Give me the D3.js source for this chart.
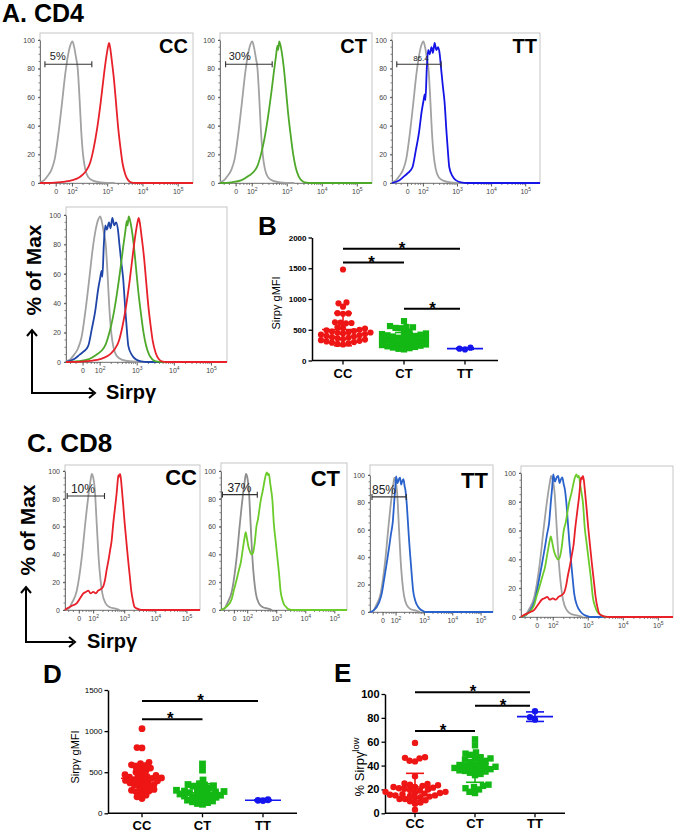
<!DOCTYPE html>
<html><head><meta charset="utf-8">
<script src="https://cdn.jsdelivr.net/npm/d3@7"></script>
<style>body{margin:0;background:#fff}svg{display:block;font-family:"Liberation Sans",Arial,sans-serif}</style>
</head><body><script>
// ---------- DATA ----------
// histogram x values are log10 fluorescence, y values are % of max
const cd4Iso=[[1.08,0.5],[1.2,2],[1.3,5],[1.4,9],[1.5,17],[1.6,34],[1.7,55],[1.8,77],[1.88,90],[1.95,97],[2.0,99],[2.05,95],[2.1,88],[2.15,80],[2.2,60],[2.25,36],[2.3,20],[2.36,10],[2.45,4],[2.6,1.5],[2.8,0.5],[3.2,0]];
const cd4CC=[[1.08,0],[1.5,0.3],[1.8,1],[2.0,2],[2.2,4],[2.3,6],[2.4,9],[2.5,14],[2.6,24],[2.7,38],[2.8,56],[2.9,77],[2.96,88],[3.0,94],[3.04,98],[3.08,93],[3.12,85],[3.18,72],[3.24,55],[3.3,38],[3.36,25],[3.42,14],[3.5,6],[3.58,2],[3.66,0.5],[3.8,0],[5.42,0]];
const cd4CT=[[1.08,0],[1.4,0.5],[1.7,2],[1.9,5],[2.05,8],[2.15,12],[2.25,20],[2.35,31],[2.45,46],[2.55,64],[2.62,78],[2.68,89],[2.72,96],[2.74,93],[2.77,99],[2.8,97],[2.84,92],[2.9,81],[2.96,66],[3.02,50],[3.09,35],[3.17,20],[3.24,11],[3.32,5],[3.4,2],[3.5,0.5],[3.7,0],[5.42,0]];
const cd4TT=[[1.08,0],[1.3,2],[1.45,5],[1.55,7],[1.68,11],[1.78,23],[1.87,35],[1.95,50],[2.0,57],[2.04,62],[2.06,58],[2.1,80],[2.14,93],[2.18,90],[2.24,95],[2.28,91],[2.33,98],[2.38,93],[2.43,95],[2.48,90],[2.52,80],[2.57,68],[2.62,57],[2.68,35],[2.72,22],[2.76,11],[2.85,5],[2.95,2],[3.1,0.5],[3.3,0],[5.42,0]];
const cd8Iso=[[1.08,0],[1.2,1],[1.3,5],[1.46,14],[1.62,38],[1.73,62],[1.82,80],[1.9,93],[1.94,98],[1.98,96],[2.04,86],[2.1,62],[2.16,38],[2.22,22],[2.28,12],[2.38,5],[2.52,2],[2.7,1],[2.84,0]];
const cd8CC=[[1.08,0],[1.14,1],[1.3,3],[1.46,5],[1.58,9],[1.67,12],[1.75,13],[1.83,14],[1.9,12],[1.99,13],[2.07,12],[2.15,14],[2.23,15],[2.31,17],[2.37,22],[2.42,29],[2.48,36],[2.53,43],[2.58,50],[2.63,62],[2.68,72],[2.74,84],[2.78,94],[2.8,97],[2.83,96],[2.85,98],[2.88,94],[2.9,89],[2.95,76],[3.0,62],[3.05,50],[3.1,38],[3.16,25],[3.21,14],[3.27,6],[3.32,2],[3.4,1],[3.48,0.3],[3.6,0],[5.42,0]];
const cd8CT=[[1.08,0],[1.3,3],[1.45,8],[1.52,14],[1.62,22],[1.7,29],[1.76,34],[1.84,45],[1.9,53],[1.93,56],[1.97,52],[2.02,46],[2.08,42],[2.13,40],[2.18,41],[2.24,48],[2.3,60],[2.36,66],[2.4,72],[2.45,79],[2.52,86],[2.58,93],[2.62,97],[2.66,99],[2.7,97],[2.73,98],[2.77,92],[2.81,86],[2.85,79],[2.9,62],[2.96,50],[3.02,38],[3.08,26],[3.13,14],[3.2,7],[3.25,4],[3.33,2],[3.42,0.5],[3.6,0],[5.42,0]];
const cd8TT=[[1.08,0],[1.2,1],[1.4,7],[1.5,14],[1.58,24],[1.68,37],[1.76,48],[1.82,57],[1.88,65],[1.94,82],[1.97,90],[2.0,99],[2.05,94],[2.1,97],[2.14,98],[2.18,93],[2.21,95],[2.26,97],[2.3,92],[2.33,89],[2.38,78],[2.42,65],[2.46,52],[2.5,41],[2.55,28],[2.6,16],[2.68,8],[2.77,4],[2.85,2],[2.93,1],[3.05,0],[5.42,0]];
const logDomain=[1.08,5.42];
const pctTicks=[0,20,40,60,80,100];
const histTickLabels=[{v:1.54,t:"0"},{v:2,t:"10",e:"2"},{v:3,t:"10",e:"3"},{v:4,t:"10",e:"4"},{v:5,t:"10",e:"5"}];

const groups=["CC","CT","TT"];
const bCC=[1480,945,930,875,770,765,760,620,615,610,605,540,530,520,500,490,480,470,460,455,450,440,430,420,410,400,390,380,370,360,350,340,330,320,310,300,290,280,270,260];
const bCT=[640,560,545,540,530,525,470,450,440,430,420,410,400,390,380,370,360,350,340,330,320,310,300,290,280,270,260,250,240,230,220,210,200,190,180];
const bTT=[208,180,192];
const bMean=[505,345,193], bSD=[265,110,12];
const bTicks=[0,500,1000,1500,2000];
const bSig=[["CC","TT",1818],["CC","CT",1592],["CT","TT",840]];

const dCC=[1030,800,795,620,605,590,580,560,550,540,520,500,480,470,460,450,445,440,430,425,420,410,400,395,390,380,370,360,350,340,330,320,300,290,280,270,260,250,220,200,180];
const dCT=[600,525,405,360,350,345,335,330,310,300,290,280,270,265,260,255,250,240,235,230,225,220,210,200,195,190,180,170,160,150,140,130,120,110];
const dTT=[165,158,155];
const dMean=[426,250,158], dSD=[180,110,5];
const dTicks=[0,500,1000,1500];
const dSig=[["CC","TT",1366],["CC","CT",1143]];

const eCC=[59,47,46.5,46,44,43.5,31,25,24.5,24,23.5,23,22,22,21.5,21,20.5,20,19.5,19,18,18,17.5,17,16.5,16,15.5,15,15,14.5,14,13.5,13,12,12,11,10,9,8,3];
const eCT=[62,57,51,50,49,47,46,46,45,44,43,42,41,40.5,40,39.5,39,38.5,38,37.5,37,36.5,36,35.5,35,34,33,32,24,23,22,21,20,18,17];
const eTT=[85.5,78.5,80.5];
const eMean=[22,37,81], eSD=[11.5,11,4];
const eTicks=[0,20,40,60,80,100];
const eSig=[["CC","TT",101.4],["CT","TT",90.2],["CC","CT",69]];

// ---------- DRAW ----------
const svg=d3.select("body").append("svg").attr("width",675).attr("height",832);
const GRAY="#a2a2a2";

function hist(o){
  const x=d3.scaleLinear().domain(logDomain).range([o.x0,o.x1]);
  const y=d3.scaleLinear().domain([0,100]).range([o.y0,o.y100]);
  const g=svg.append("g");
  g.append("rect").attr("x",o.x0).attr("y",o.top).attr("width",o.x1-o.x0).attr("height",o.y0-o.top)
    .attr("fill","none").attr("stroke","#c6c6c6").attr("stroke-width",1);
  const ya=d3.axisLeft(y).tickValues(pctTicks).tickSize(2).tickSizeOuter(0).tickPadding(3).tickFormat(d3.format("d"));
  const yg=g.append("g").attr("transform",`translate(${o.x0},0)`).call(ya);
  yg.select(".domain").attr("stroke","#777");
  yg.selectAll("text").attr("font-size",7).attr("fill","#444").attr("font-family","Liberation Sans, Arial");
  yg.selectAll("line").attr("stroke","#555");
  g.append("g").selectAll("line").data(d3.range(0,101,5)).join("line")
    .attr("x1",o.x0-1.5).attr("x2",o.x0).attr("y1",d=>y(d)).attr("y2",d=>y(d)).attr("stroke","#666").attr("stroke-width",0.8);
  g.append("line").attr("x1",o.x0).attr("x2",o.x1).attr("y1",o.y0+0.5).attr("y2",o.y0+0.5).attr("stroke","#888");
  const minors=[1.2,1.35,1.65,1.76,1.85,1.92].concat(d3.range(2,5).flatMap(d=>d3.range(2,10).map(k=>d+Math.log10(k))));
  g.append("g").selectAll("line").data(minors).join("line")
    .attr("x1",d=>x(d)).attr("x2",d=>x(d)).attr("y1",o.y0).attr("y2",o.y0+2).attr("stroke","#666").attr("stroke-width",0.8);
  g.append("g").selectAll("line").data(histTickLabels).join("line")
    .attr("x1",d=>x(d.v)).attr("x2",d=>x(d.v)).attr("y1",o.y0).attr("y2",o.y0+3.5).attr("stroke","#444").attr("stroke-width",0.9);
  const tl=g.append("g").selectAll("text").data(histTickLabels).join("text")
    .attr("x",d=>x(d.v)).attr("y",o.y0+11).attr("text-anchor","middle").attr("font-size",7).attr("fill","#444");
  tl.append("tspan").text(d=>d.t);
  tl.filter(d=>d.e).append("tspan").attr("dy",-3).attr("font-size",5).text(d=>d.e);
  const line=d3.line().x(d=>x(d[0])).y(d=>y(d[1])).curve(d3.curveMonotoneX);
  o.curves.forEach(c=>g.append("path").datum(c.data).attr("d",line).attr("fill","none")
    .attr("stroke",c.color).attr("stroke-width",c.w||1.8).attr("stroke-linejoin","round"));
  if(o.gate){
    const gt=o.gate, gy=y(gt.level);
    g.append("line").attr("x1",x(gt.from)).attr("x2",x(gt.to)).attr("y1",gy).attr("y2",gy).attr("stroke","#333").attr("stroke-width",1.1);
    [gt.from,gt.to].forEach(v=>g.append("line").attr("x1",x(v)).attr("x2",x(v)).attr("y1",gy-3).attr("y2",gy+3).attr("stroke","#333").attr("stroke-width",1.1));
    g.append("text").attr("x",x(gt.tx)).attr("y",gy-gt.dy).attr("font-size",gt.fs).attr("fill","#222").text(gt.text);
  }
  if(o.label) g.append("text").attr("x",o.x1-o.lr).attr("y",o.top+o.lb).attr("text-anchor","end")
    .attr("font-size",o.lfs).attr("font-weight","bold").attr("fill","#000").text(o.label);
}

// Panel A
svg.append("text").attr("x",2).attr("y",22).attr("font-size",25).attr("font-weight","bold").text("A. CD4");
const aV={top:33,y100:40,y0:183};
hist({...aV,x0:40,x1:193,curves:[{data:cd4Iso,color:GRAY},{data:cd4CC,color:"#e8202a"}],
  gate:{from:1.22,to:2.55,level:83,text:"5%",tx:1.36,dy:4,fs:11},label:"CC",lr:5,lb:20,lfs:20});
hist({...aV,x0:220,x1:372,curves:[{data:cd4Iso,color:GRAY},{data:cd4CT,color:"#4ea82a"}],
  gate:{from:1.24,to:2.57,level:83,text:"30%",tx:1.33,dy:4,fs:11},label:"CT",lr:5,lb:20,lfs:20});
hist({...aV,x0:392,x1:540,curves:[{data:cd4Iso,color:GRAY},{data:cd4TT,color:"#1414e6"}],
  gate:{from:1.22,to:2.52,level:83,text:"86.4",tx:1.7,dy:3,fs:8},label:"TT",lr:3,lb:20,lfs:20});
hist({top:207,y100:215,y0:362,x0:66,x1:227,curves:[{data:cd4Iso,color:GRAY},{data:cd4TT,color:"#1f45a8"},{data:cd4CT,color:"#4ea82a"},{data:cd4CC,color:"#e8202a"}]});

function axisLabel(x,yTop,yCorner,xRight,labY,textX,textY){
  const g=svg.append("g");
  g.append("text").attr("transform",`translate(${x},${labY}) rotate(-90)`).attr("text-anchor","middle")
    .attr("font-size",21).attr("font-weight","bold").text("% of Max");
  g.append("polyline").attr("points",`${x-9},${yTop+2} ${x-9},${yCorner} ${xRight-2},${yCorner}`)
    .attr("fill","none").attr("stroke","#000").attr("stroke-width",2);
  g.append("polyline").attr("points",`${x-14},${yTop+6} ${x-9},${yTop} ${x-4},${yTop+6}`).attr("fill","none").attr("stroke","#000").attr("stroke-width",2);
  g.append("polyline").attr("points",`${xRight-6},${yCorner-5} ${xRight},${yCorner} ${xRight-6},${yCorner+5}`).attr("fill","none").attr("stroke","#000").attr("stroke-width",2);
  g.append("text").attr("x",textX).attr("y",textY).attr("font-size",20).attr("font-weight","bold").text("Sirpγ");
}
axisLabel(41,330,393,95,270,106,399);

// Panel C
svg.append("text").attr("x",27).attr("y",452).attr("font-size",26).attr("font-weight","bold").text("C. CD8");
hist({top:465,y100:471,y0:610,x0:65,x1:200,curves:[{data:cd8Iso,color:GRAY},{data:cd8CC,color:"#e8202a"}],
  gate:{from:1.15,to:2.35,level:82,text:"10%",tx:1.27,dy:3,fs:12},label:"CC",lr:3,lb:20,lfs:22});
hist({top:463,y100:471,y0:610,x0:221,x1:347,curves:[{data:cd8Iso,color:"#8e8e8e"},{data:cd8CT,color:"#6acb2a"}],
  gate:{from:1.13,to:2.33,level:83,text:"37%",tx:1.3,dy:3,fs:12},label:"CT",lr:7,lb:23,lfs:22});
hist({top:465,y100:475,y0:612,x0:370,x1:493,curves:[{data:cd8Iso,color:"#a0a0a0"},{data:cd8TT,color:"#2a62cc"}],
  gate:{from:1.15,to:2.36,level:84,text:"85%",tx:1.15,dy:3,fs:12},label:"TT",lr:5,lb:23,lfs:22});
hist({top:466,y100:473,y0:617,x0:521,x1:673,curves:[{data:cd8Iso,color:GRAY},{data:cd8TT,color:"#2a62cc"},{data:cd8CT,color:"#6acb2a"},{data:cd8CC,color:"#e8202a"}]});
axisLabel(35,587,642,75,530,87,648);

// ---------- scatter panels ----------
function swarm(vals,y,cx,r,f){
  const dmin=2*r*f, placed=[];
  vals.map(v=>({v,py:y(v)})).sort((a,b)=>b.py-a.py).forEach((p,i)=>{
    let best=null;
    for(let k=0;k<400&&best===null;k++){
      const c=k===0?[0]:(i%2?[-k*0.5,k*0.5]:[k*0.5,-k*0.5]);
      for(const dx of c){ if(placed.every(q=>(q.dx-dx)**2+(q.py-p.py)**2>=dmin*dmin)){best=dx;break;} }
    }
    p.dx=best; placed.push(p);
  });
  return placed.map(p=>({x:cx+p.dx,y:p.py}));
}
const COL={CC:"#ee1515",CT:"#14b814",TT:"#1515ee"};
function scatter(o){
  const g=svg.append("g");
  const y=d3.scaleLinear().domain([0,o.max]).range([o.y0,o.yTop]);
  const x=d3.scalePoint().domain(groups).range([o.c0,o.c1]);
  const ya=d3.axisLeft(y).tickValues(o.ticks).tickSize(3.5).tickSizeOuter(0).tickPadding(2).tickFormat(d3.format("d"));
  const yg=g.append("g").attr("transform",`translate(${o.ax},0)`).call(ya);
  yg.select(".domain").attr("stroke","#000").attr("stroke-width",1.5);
  yg.selectAll("line").attr("stroke","#000").attr("stroke-width",1.3);
  yg.selectAll("text").attr("font-size",o.tfs).attr("font-weight",o.tfw).attr("fill","#000").attr("font-family","Liberation Sans, Arial");
  g.append("line").attr("x1",o.ax).attr("x2",o.axR).attr("y1",o.y0).attr("y2",o.y0).attr("stroke","#000").attr("stroke-width",1.5);
  g.append("g").selectAll("line").data(groups).join("line").attr("x1",d=>x(d)).attr("x2",d=>x(d)).attr("y1",o.y0).attr("y2",o.y0+4).attr("stroke","#000").attr("stroke-width",1.3);
  g.append("g").selectAll("text").data(groups).join("text").attr("x",d=>x(d)).attr("y",o.cy).attr("text-anchor","middle")
    .attr("font-size",13).attr("font-weight","bold").text(d=>d);
  g.append("text").attr("transform",`translate(${o.lx},${o.ly}) rotate(-90)`).attr("text-anchor","middle")
    .attr("font-size",o.lfs).call(t=>{t.append("tspan").text(o.ylab); if(o.sup) t.append("tspan").attr("dy",-5).attr("font-size",o.lfs*0.72).text(o.sup);});
  g.append("text").attr("x",o.Lx).attr("y",o.Ly).attr("font-size",26).attr("font-weight","bold").text(o.L);
  o.series.forEach((vals,i)=>{
    const k=groups[i], cx=x(k), pts=swarm(vals,y,cx,o.r,o.pack);
    const sg=g.append("g").attr("fill",COL[k]);
    if(k==="CT") sg.selectAll("rect").data(pts).join("rect").attr("x",d=>d.x-o.r).attr("y",d=>d.y-o.r).attr("width",o.r*2).attr("height",o.r*2);
    else sg.selectAll("circle").data(pts).join("circle").attr("cx",d=>d.x).attr("cy",d=>d.y).attr("r",o.r);
    const m=o.mean[i], s=o.sd[i], hw=k==="TT"?18:21;
    const lg=g.append("g").attr("stroke",COL[k]).attr("stroke-width",1.6);
    lg.append("line").attr("x1",cx-hw).attr("x2",cx+hw).attr("y1",y(m)).attr("y2",y(m));
    lg.append("line").attr("x1",cx).attr("x2",cx).attr("y1",y(m-s)).attr("y2",y(m+s));
    [m-s,m+s].forEach(v=>lg.append("line").attr("x1",cx-9).attr("x2",cx+9).attr("y1",y(v)).attr("y2",y(v)));
  });
  o.sig.forEach(([a,b,v])=>{
    g.append("line").attr("x1",x(a)).attr("x2",x(b)-(b==="TT"?5:0)).attr("y1",y(v)).attr("y2",y(v)).attr("stroke","#000").attr("stroke-width",2);
    g.append("text").attr("x",(x(a)+x(b))/2-2).attr("y",y(v)+5).attr("text-anchor","middle").attr("font-size",17).attr("font-weight","bold").text("*");
  });
}
scatter({max:2000,y0:360.5,yTop:237.5,c0:343,c1:465,ax:312,axR:498,ticks:bTicks,tfs:8,tfw:"bold",cy:378,pack:0.88,
  lx:280,ly:303,lfs:11,ylab:"Sirpγ gMFI",L:"B",Lx:258,Ly:235,r:3.1,series:[bCC,bCT,bTT],mean:bMean,sd:bSD,sig:bSig});
scatter({max:1500,y0:813.3,yTop:690,c0:142,c1:263,ax:108,axR:297,ticks:dTicks,tfs:8,tfw:"normal",cy:830,pack:0.72,
  lx:79,ly:757,lfs:11,ylab:"Sirpγ gMFI",L:"D",Lx:43,Ly:683,r:3.4,series:[dCC,dCT,dTT],mean:dMean,sd:dSD,sig:dSig});
scatter({max:100,y0:813.3,yTop:694,c0:415,c1:535,ax:385,axR:565,ticks:eTicks,tfs:11,tfw:"bold",cy:828,pack:0.82,
  lx:364,ly:767,lfs:13,ylab:"% Sirpγ",sup:"low",L:"E",Lx:334,Ly:682,r:3.2,series:[eCC,eCT,eTT],mean:eMean,sd:eSD,sig:eSig});
</script></body></html>
